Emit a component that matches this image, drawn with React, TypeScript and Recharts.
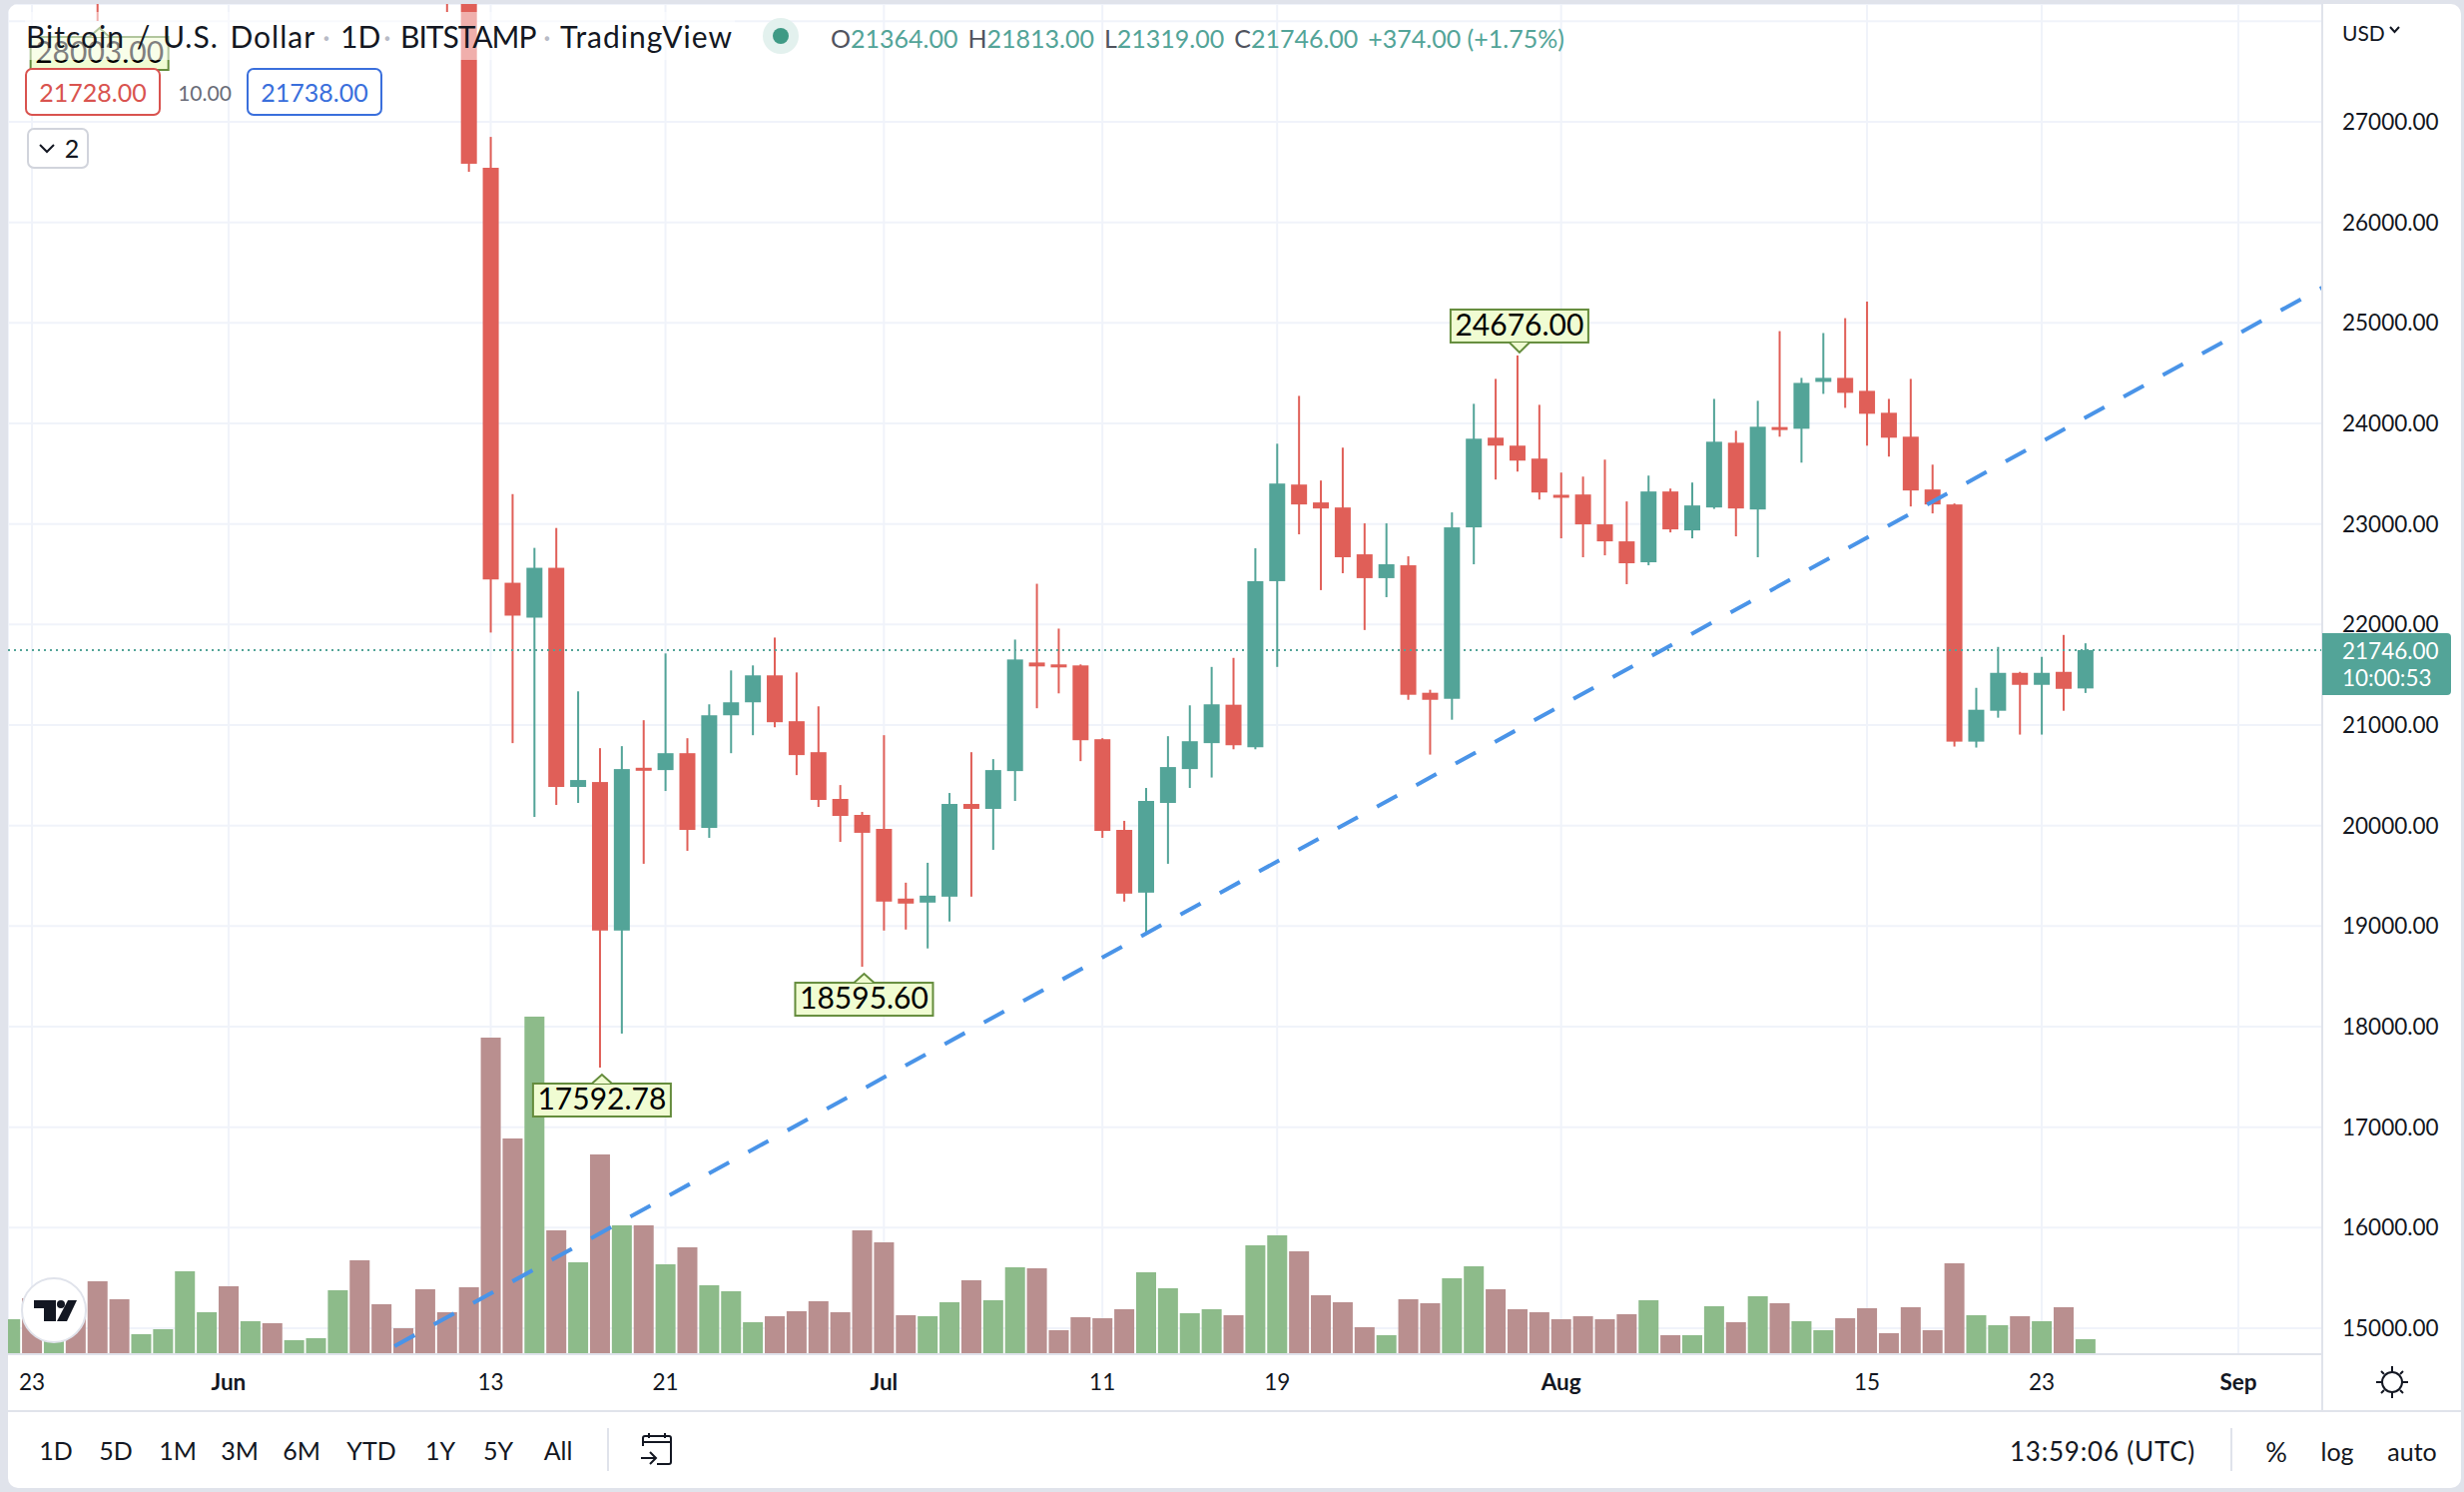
import React from 'react';
import { ComposedChart, Bar, XAxis, YAxis, CartesianGrid, ReferenceLine, ReferenceDot } from 'recharts';

// day 0 = May 23, one entry per daily candle, starting May 22
const days = Array.from({ length: 96 }, (_, i) => i - 1);
const opens = [29200, 30300, 29100, 29650, 29540, 29200, 28600, 28990, 29450, 31700, 31800, 29800, 30450, 29700, 29850, 29900, 31370, 31130, 30200, 30110, 29080, 28400, 26543, 22415, 22068, 22564, 20384, 20433, 18956, 20575, 20552, 20720, 19977, 21097, 21226, 21494, 21038, 20730, 20265, 20106, 19967, 19274, 19234, 19293, 20215, 20166, 20542, 21622, 21603, 21593, 20859, 19957, 19333, 20225, 20562, 20820, 21202, 20779, 22431, 23392, 23214, 23164, 22698, 22461, 22589, 21321, 21261, 22966, 23858, 23779, 23650, 23290, 23293, 22996, 22827, 22619, 23323, 22936, 23164, 23808, 23144, 23964, 23947, 24413, 24453, 24324, 24106, 23868, 23343, 23194, 20835, 21142, 21519, 21400, 21529, 21364];
const highs = [30500, 30650, 29850, 29950, 29850, 29700, 29300, 29600, 32000, 32300, 32350, 30700, 30700, 30000, 30200, 31700, 31500, 31500, 30450, 30350, 29500, 28550, 26850, 23297, 22762, 22960, 21335, 20770, 20790, 21048, 21712, 20869, 21206, 21543, 21593, 21870, 21523, 21186, 20403, 20136, 20899, 19432, 19630, 20324, 20730, 20661, 21850, 22405, 21959, 21603, 20869, 20047, 20374, 20889, 21196, 21578, 21668, 22758, 23798, 24274, 23432, 23759, 23006, 23006, 22678, 21351, 23115, 24195, 24443, 24676, 24185, 23511, 23471, 23640, 23224, 23481, 23352, 23412, 24244, 23927, 24225, 24918, 24453, 24899, 25047, 25212, 24244, 24443, 23590, 23204, 21370, 21777, 21529, 21678, 21896, 21813];
const lows = [29000, 28900, 28950, 29300, 28003, 28250, 28450, 28800, 29300, 31100, 29300, 29550, 29300, 29500, 29500, 29850, 29220, 29900, 29950, 28850, 28092, 26503, 21920, 20820, 20086, 20205, 20225, 17592.78, 17931, 19620, 20344, 19749, 19878, 20720, 20899, 20978, 20502, 20185, 19838, 18595.6, 18956, 18966, 18778, 19046, 19293, 19759, 20245, 21167, 21315, 20641, 19878, 19244, 18917, 19620, 20374, 20478, 20759, 20759, 21578, 22897, 22342, 22510, 21945, 22272, 21251, 20706, 21053, 22599, 23442, 23521, 23243, 22857, 22669, 22688, 22401, 22589, 22916, 22857, 23150, 22877, 22669, 23868, 23610, 24294, 24155, 23779, 23670, 23174, 23105, 20786, 20776, 21073, 20905, 20905, 21142, 21319];
const closes = [30300, 29100, 29650, 29540, 29200, 28600, 28990, 29450, 31700, 31800, 29800, 30450, 29700, 29850, 29900, 31370, 31130, 30200, 30110, 29080, 28400, 26583, 22448, 22088, 22564, 20384, 20453, 18956, 20562, 20545, 20720, 19957, 21097, 21226, 21494, 21028, 20701, 20255, 20096, 19928, 19244, 19224, 19303, 20215, 20166, 20552, 21652, 21583, 21583, 20849, 19947, 19323, 20245, 20582, 20839, 21206, 20799, 22431, 23402, 23194, 23154, 22669, 22461, 22599, 21301, 21251, 22966, 23848, 23779, 23630, 23313, 23267, 22996, 22827, 22609, 23323, 22946, 23184, 23818, 23154, 23967, 23941, 24403, 24453, 24304, 24096, 23858, 23333, 23194, 20835, 21152, 21519, 21400, 21519, 21360, 21746];
// volume in the height units of the hidden volume axis
const volumes = [34, 55, 20, 40, 72, 54, 19, 24, 82, 41, 67, 32, 30, 13, 15, 63, 93, 49, 25, 64, 41, 66, 316, 215, 337, 123, 91, 199, 128, 128, 89, 106, 68, 62, 31, 37, 42, 52, 41, 123, 111, 38, 37, 51, 73, 53, 86, 85, 23, 36, 35, 44, 81, 65, 40, 44, 38, 108, 118, 102, 58, 51, 26, 18, 54, 50, 75, 87, 64, 44, 41, 34, 37, 34, 39, 53, 18, 18, 47, 31, 57, 50, 32, 23, 35, 45, 20, 46, 23, 90, 38, 28, 37, 32, 46, 14];

const dayTicks = [0, 9, 21, 29, 39, 49, 57, 70, 84, 92, 101];
const dayLabels = ['23', 'Jun', '13', '21', 'Jul', '11', '19', 'Aug', '15', '23', 'Sep'];
const monthLabels = ['Jun', 'Jul', 'Aug', 'Sep'];
const priceTicks = [15000, 16000, 17000, 18000, 19000, 20000, 21000, 22000, 23000, 24000, 25000, 26000, 27000, 28000];
const rangeButtons = [['1D', 56], ['5D', 116], ['1M', 178], ['3M', 240], ['6M', 302], ['YTD', 372], ['1Y', 441], ['5Y', 499], ['All', 559]];

const lastPrice = 21746;
const trendStart = { day: 16.6, price: 14822 };
const trendEnd = { day: 104.84, price: 25351 };
const xDomain = [-1.097, 104.84];
const yDomain = [14742, 28172];

const rows = days.map((day, i) => ({
  day,
  open: opens[i],
  high: highs[i],
  low: lows[i],
  close: closes[i],
  range: [lows[i], highs[i]],
  volume: volumes[i],
}));

const FONT = 'Lato, sans-serif';
const UP = '#53a498';
const DOWN = '#e05f58';

const Candle = (props: any) => {
  const { x, y, width, height, payload } = props;
  const k = Math.abs(height) / (payload.high - payload.low);
  const top = y + (payload.high - Math.max(payload.open, payload.close)) * k;
  const bottom = y + (payload.high - Math.min(payload.open, payload.close)) * k;
  const color = payload.close >= payload.open ? UP : DOWN;
  return (
    <g>
      <rect x={x + width / 2 - 1} y={y} width={2} height={Math.abs(height)} fill={color} />
      <rect x={x} y={top} width={width} height={Math.max(bottom - top, 3)} fill={color} />
    </g>
  );
};

const VolumeBar = (props: any) => {
  const { x, y, width, height, payload } = props;
  const color = payload.close >= payload.open ? '#8dbb8a' : '#b98f8f';
  return <rect x={x} y={y} width={width} height={height} fill={color} />;
};

// small yellow-green callout for the visible high and low
const PriceNote = ({ cx, cy, text, above }: any) => {
  const w = 138;
  const h = 33;
  const tipX = cx + 2;
  const tipY = above ? cy - 3 : cy + 7;
  const boxY = above ? tipY - 10 - h : tipY + 9;
  const edge = above ? boxY + h : boxY;
  return (
    <g>
      <rect x={tipX - w / 2} y={boxY} width={w} height={h} fill="#f0fcd2" stroke="#648c3c" strokeWidth={2} />
      <path d={`M${tipX - 10} ${edge} L${tipX} ${tipY} L${tipX + 10} ${edge}`} fill="#f0fcd2" stroke="#648c3c" strokeWidth={2} />
      <text x={tipX} y={boxY + 26} textAnchor="middle" fontFamily={FONT} fontSize={30} fill="#000">{text}</text>
    </g>
  );
};

const DayTick = (props: any) => {
  const { x, y, payload } = props;
  const label = dayLabels[dayTicks.indexOf(payload.value)];
  return (
    <text x={x} y={y + 34} textAnchor="middle" fontFamily={FONT} fontSize={22.5} fontWeight={monthLabels.includes(label) ? 700 : 400} fill="#131722">
      {label}
    </text>
  );
};

const Txt = ({ x, y, size = 22.5, color = '#131722', center, spacing = 0, words = 0, children }: any) => (
  <div
    style={{
      position: 'absolute',
      left: x,
      top: y,
      transform: center ? 'translate(-50%, -50%)' : 'translateY(-50%)',
      fontSize: size,
      color,
      fontFamily: FONT,
      whiteSpace: 'nowrap',
      lineHeight: 1,
      letterSpacing: spacing,
      wordSpacing: words,
    }}
  >
    {children}
  </div>
);

const Box = ({ x, y, w, h, border }: any) => (
  <div
    style={{
      position: 'absolute',
      left: x,
      top: y,
      width: w,
      height: h,
      boxSizing: 'border-box',
      border: `2px solid ${border}`,
      borderRadius: 7,
      background: '#fff',
    }}
  />
);

const Val = ({ k, v }: any) => (
  <span style={{ marginRight: 10 }}>
    <span style={{ color: '#50535e' }}>{k}</span>
    <span style={{ color: UP }}>{v}</span>
  </span>
);

export default function App() {
  return (
    <div style={{ position: 'fixed', left: 0, top: 0, width: 2468, height: 1494, background: '#e0e3eb', overflow: 'hidden' }}>
      <div style={{ position: 'absolute', left: 8, top: 4, width: 2457, height: 1486, background: '#fff', borderRadius: 10, overflow: 'hidden' }}>
        <ComposedChart width={2457} height={1408} data={rows} margin={{ top: 0, right: 0, bottom: 0, left: 0 }}>
          <CartesianGrid stroke="#f0f3fa" strokeWidth={2} />
          <XAxis
            type="number"
            dataKey="day"
            domain={xDomain}
            allowDataOverflow
            ticks={dayTicks}
            interval={0}
            height={56}
            tickSize={0}
            axisLine={{ stroke: '#e0e3eb', strokeWidth: 2 }}
            tick={<DayTick />}
          />
          <XAxis xAxisId="vol" type="number" dataKey="day" domain={xDomain} allowDataOverflow hide />
          <YAxis
            orientation="right"
            domain={yDomain}
            allowDataOverflow
            ticks={priceTicks}
            interval={0}
            width={139}
            tickSize={0}
            tickMargin={20}
            axisLine={{ stroke: '#e0e3eb', strokeWidth: 2 }}
            tick={{ fontFamily: FONT, fontSize: 22.5, fill: '#131722' }}
            tickFormatter={(v: number) => (v === 28000 ? '' : v.toFixed(2))}
          />
          <YAxis yAxisId="vol" domain={[-1, 1351]} allowDataOverflow hide />
          <Bar xAxisId="vol" yAxisId="vol" dataKey="volume" barSize={20} shape={<VolumeBar />} isAnimationActive={false} />
          <ReferenceLine y={lastPrice} stroke={UP} strokeWidth={2} strokeDasharray="2 4" />
          <ReferenceLine
            segment={[
              { x: trendStart.day, y: trendStart.price },
              { x: trendEnd.day, y: trendEnd.price },
            ]}
            stroke="#4a94e8"
            strokeWidth={4}
            strokeDasharray="23 21.9"
          />
          <Bar dataKey="range" barSize={16} shape={<Candle />} isAnimationActive={false} />
          <ReferenceDot x={3} y={28003} r={0} shape={(p: any) => <PriceNote {...p} text="28003.00" />} />
          <ReferenceDot x={26} y={17592.78} r={0} shape={(p: any) => <PriceNote {...p} text="17592.78" />} />
          <ReferenceDot x={38} y={18595.6} r={0} shape={(p: any) => <PriceNote {...p} text="18595.60" />} />
          <ReferenceDot x={68} y={24676} r={0} shape={(p: any) => <PriceNote {...p} text="24676.00" above />} />
        </ComposedChart>
      </div>

      {/* header */}
      <div style={{ position: 'absolute', left: 25, top: 12, width: 711, height: 48, background: 'rgba(255,255,255,0.5)' }} />
      <Txt x={26} y={36} size={30} spacing={1} words={3}>Bitcoin / U.S. Dollar</Txt>
      <Txt x={327} y={36} size={30} color="#b8bbc6" center>·</Txt>
      <Txt x={341} y={36} size={30}>1D</Txt>
      <Txt x={388} y={36} size={30} color="#b8bbc6" center>·</Txt>
      <Txt x={401} y={36} size={30} spacing={-1}>BITSTAMP</Txt>
      <Txt x={548} y={36} size={30} color="#b8bbc6" center>·</Txt>
      <Txt x={561} y={36} size={30} spacing={1}>TradingView</Txt>
      <svg style={{ position: 'absolute', left: 760, top: 14 }} width={44} height={44}>
        <circle cx={22} cy={22} r={18} fill="#e3f1ee" />
        <circle cx={22} cy={22} r={8} fill="#3f9a85" />
      </svg>
      <Txt x={832} y={38} size={25}>
        <Val k="O" v="21364.00" /><Val k="H" v="21813.00" /><Val k="L" v="21319.00" /><Val k="C" v="21746.00" />
        <span style={{ color: UP }}>+374.00 (+1.75%)</span>
      </Txt>

      {/* order buttons */}
      <Box x={25} y={68} w={136} h={48} border="#d9534f" />
      <Txt x={93} y={92} size={25} color="#d9534f" center>21728.00</Txt>
      <Txt x={205} y={92} size={21} color="#6a6d78" center>10.00</Txt>
      <Box x={247} y={68} w={136} h={48} border="#3a6fdc" />
      <Txt x={315} y={92} size={25} color="#3a6fdc" center>21738.00</Txt>
      <Box x={27} y={128} w={62} h={41} border="#d1d4dc" />
      <Txt x={72} y={148} size={25} center>2</Txt>
      <svg style={{ position: 'absolute', left: 39, top: 142 }} width={18} height={14}>
        <path d="M1 3 L8 10 L15 3" fill="none" stroke="#131722" strokeWidth={2} />
      </svg>

      {/* price scale extras */}
      <Txt x={2346} y={32} size={21}>USD</Txt>
      <svg style={{ position: 'absolute', left: 2392, top: 24 }} width={14} height={12}>
        <path d="M2 3 L6.5 8 L11 3" fill="none" stroke="#131722" strokeWidth={2} />
      </svg>
      <div style={{ position: 'absolute', left: 2326, top: 634, width: 129, height: 62, background: UP, borderRadius: '0 4px 4px 0', color: '#fff', fontFamily: FONT, fontSize: 22.5, lineHeight: '27px', paddingTop: 4, boxSizing: 'border-box', paddingLeft: 20 }}>
        21746.00<br />10:00:53
      </div>

      {/* TradingView mark */}
      <svg style={{ position: 'absolute', left: 20, top: 1278 }} width={68} height={68}>
        <g transform="translate(-20 -1278)">
          <circle cx={54} cy={1312} r={32} fill="#fff" stroke="#e0e3eb" strokeWidth={2} />
          <path d="M34 1302 H56 V1323 H44 V1310 H34 Z" fill="#131722" />
          <circle cx={61} cy={1306} r={4} fill="#131722" />
          <path d="M68 1302 H77 L67 1323 H57 Z" fill="#131722" />
        </g>
      </svg>

      {/* axis corner */}
      <div style={{ position: 'absolute', left: 8, top: 1412, width: 2457, height: 2, background: '#e0e3eb' }} />
      <div style={{ position: 'absolute', left: 2325, top: 1356, width: 2, height: 56, background: '#e0e3eb' }} />
      <svg style={{ position: 'absolute', left: 2378, top: 1366 }} width={36} height={36}>
        <circle cx={18} cy={18} r={10} fill="none" stroke="#131722" strokeWidth={2} />
        <path d="M18 2 V8 M18 28 V34 M2 18 H8 M28 18 H34 M7 7 L10 10 M29 7 L26 10 M7 29 L10 26 M29 29 L26 26" stroke="#131722" strokeWidth={2} />
      </svg>

      {/* bottom toolbar */}
      {rangeButtons.map(([label, x]) => (
        <Txt key={label} x={x} y={1452} size={25} center>{label}</Txt>
      ))}
      <div style={{ position: 'absolute', left: 608, top: 1430, width: 2, height: 43, background: '#e0e3eb' }} />
      <svg style={{ position: 'absolute', left: 640, top: 1434 }} width={36} height={36}>
        <path d="M4 14 V6 Q4 4 6 4 H30 Q32 4 32 6 V30 Q32 32 30 32 H18 M4 10 H32 M10 1 V6 M26 1 V6 M2 26 H16 M11 20 L17 26 L11 32" fill="none" stroke="#131722" strokeWidth={2} />
      </svg>
      <Txt x={2106} y={1453} size={26} spacing={0.8} center>13:59:06 (UTC)</Txt>
      <div style={{ position: 'absolute', left: 2234, top: 1430, width: 2, height: 43, background: '#e0e3eb' }} />
      <Txt x={2280} y={1453} size={27} center>%</Txt>
      <Txt x={2341} y={1453} size={25} center>log</Txt>
      <Txt x={2416} y={1453} size={25} center>auto</Txt>
    </div>
  );
}
